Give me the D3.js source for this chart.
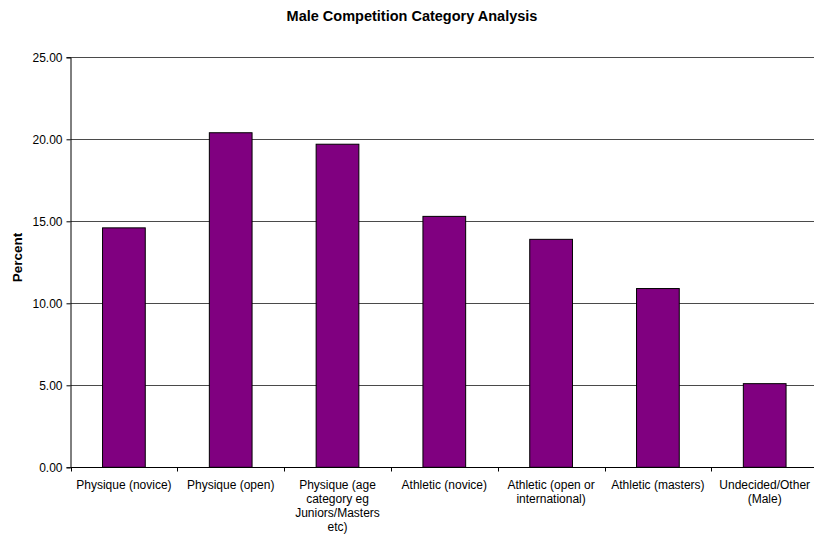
<!DOCTYPE html>
<html>
<head>
<meta charset="utf-8">
<script src="https://cdn.jsdelivr.net/npm/d3@7"></script>
<style>
  html, body { margin: 0; padding: 0; background: #fff; }
  svg { display: block; font-family: "Liberation Sans", Arial, sans-serif; }
</style>
</head>
<body>
<svg id="chart" width="814" height="538"></svg>
<script>
// Share of male competitors by category (percent)
const categories = [
  "Physique (novice)",
  "Physique (open)",
  "Physique (age category eg Juniors/Masters etc)",
  "Athletic (novice)",
  "Athletic (open or international)",
  "Athletic (masters)",
  "Undecided/Other (Male)"
];
const percents = [14.6, 20.4, 19.7, 15.3, 13.9, 10.9, 5.1];
const yTicks = [0, 5, 10, 15, 20, 25];
const chartTitle = "Male Competition Category Analysis";
const yTitle = "Percent";

const svg = d3.select("#chart");
const margin = { left: 70.5, top: 57.3, bottom: 467.3 };
const band = 106.8;
const plotRight = margin.left + band * categories.length;

const x = d3.scaleBand()
  .domain(categories)
  .range([margin.left, plotRight])
  .paddingInner(0.6)
  .paddingOuter(0.3);

const y = d3.scaleLinear()
  .domain([0, 25])
  .range([margin.bottom, margin.top]);

// Horizontal gridlines
svg.append("g")
  .selectAll("line")
  .data(yTicks.filter(d => d > 0))
  .join("line")
  .attr("x1", margin.left)
  .attr("x2", plotRight)
  .attr("y1", d => Math.round(y(d)) + 0.5)
  .attr("y2", d => Math.round(y(d)) + 0.5)
  .attr("stroke", "#4a4a4a")
  .attr("stroke-width", 1);

// Bars
svg.append("g")
  .selectAll("rect")
  .data(percents)
  .join("rect")
  .attr("x", (d, i) => x(categories[i]))
  .attr("width", x.bandwidth())
  .attr("y", d => y(d))
  .attr("height", d => y(0) - y(d))
  .attr("fill", "#800080")
  .attr("stroke", "#000")
  .attr("stroke-width", 1);

// Y axis
const yAxis = svg.append("g")
  .attr("transform", `translate(${margin.left},0)`)
  .call(d3.axisLeft(y).tickValues(yTicks).tickFormat(d3.format(".2f")).tickSize(4).tickPadding(4));
yAxis.select(".domain").attr("stroke", "#000");
yAxis.selectAll(".tick line").attr("stroke", "#000");
yAxis.selectAll(".tick text")
  .attr("font-size", 12)
  .attr("fill", "#000")
  .attr("font-family", "Liberation Sans, Arial, sans-serif");

// X axis with category boundary ticks
const xAxisG = svg.append("g")
  .attr("transform", `translate(0,${Math.round(margin.bottom) + 0.5})`);
xAxisG.append("line")
  .attr("x1", margin.left)
  .attr("x2", plotRight)
  .attr("stroke", "#000");
xAxisG.selectAll("line.bound")
  .data(d3.range(categories.length + 1))
  .join("line")
  .attr("class", "bound")
  .attr("x1", i => Math.round(margin.left + i * band) + 0.5)
  .attr("x2", i => Math.round(margin.left + i * band) + 0.5)
  .attr("y1", 0)
  .attr("y2", 4)
  .attr("stroke", "#000");

// Category labels, wrapped to the band width
const labels = xAxisG.selectAll("text.cat")
  .data(categories)
  .join("text")
  .attr("class", "cat")
  .attr("x", d => x(d) + x.bandwidth() / 2)
  .attr("y", 21)
  .attr("text-anchor", "middle")
  .attr("font-size", 12)
  .attr("fill", "#000");

labels.each(function(d) {
  const t = d3.select(this);
  const words = d.split(/\s+/);
  const cx = +t.attr("x");
  let line = [];
  let tspan = t.append("tspan").attr("x", cx).attr("dy", 0);
  for (const w of words) {
    line.push(w);
    tspan.text(line.join(" "));
    if (tspan.node().getComputedTextLength() > band - 3 && line.length > 1) {
      line.pop();
      tspan.text(line.join(" "));
      line = [w];
      tspan = t.append("tspan").attr("x", cx).attr("dy", 14).text(w);
    }
  }
});

// Title
svg.append("text")
  .attr("x", 412)
  .attr("y", 21)
  .attr("text-anchor", "middle")
  .attr("font-size", 14.5)
  .attr("font-weight", "bold")
  .attr("fill", "#000")
  .text(chartTitle);

// Y axis title
svg.append("text")
  .attr("transform", `translate(22,257.5) rotate(-90)`)
  .attr("text-anchor", "middle")
  .attr("font-size", 13.5)
  .attr("font-weight", "bold")
  .attr("fill", "#000")
  .text(yTitle);
</script>
</body>
</html>
